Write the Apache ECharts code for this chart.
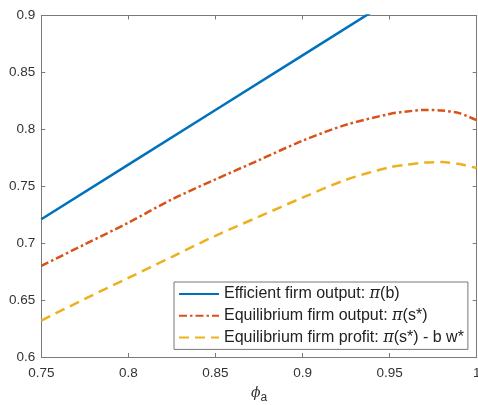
<!DOCTYPE html>
<html>
<head>
<meta charset="utf-8">
<script src="https://cdn.jsdelivr.net/npm/echarts@6/dist/echarts.min.js"></script>
<style>
  html, body { margin: 0; padding: 0; background: #fff; }
  #chart { width: 478px; height: 405px; }
</style>
</head>
<body>
<div id="chart"></div>
<script>
const phiVals = [0.75, 0.775, 0.8, 0.825, 0.85, 0.875, 0.9, 0.925, 0.95, 0.96, 0.97, 0.98, 0.99, 1.0];
const eqOutput = [0.680, 0.699, 0.718, 0.7385, 0.756, 0.773, 0.790, 0.804, 0.8135, 0.8157, 0.817, 0.8165, 0.8142, 0.808];
const eqProfit = [0.632, 0.651, 0.6695, 0.688, 0.7065, 0.7233, 0.740, 0.7557, 0.7667, 0.769, 0.7708, 0.7712, 0.7695, 0.766];
// efficient output is a straight line (clipped at top)
const effPhi = [0.75, 0.8, 0.85, 0.9, 0.95, 1.0];
const effOutput = [0.721, 0.769, 0.817, 0.865, 0.913, 0.962];

const names = [
  'Efficient firm output: π(b)',
  'Equilibrium firm output: π(s*)',
  'Equilibrium firm profit: π(s*) - b w*'
];
const labels = [
  'Efficient firm output: {pi|π}(b)',
  'Equilibrium firm output: {pi|π}(s*)',
  'Equilibrium firm profit: {pi|π}(s*) - b w*'
];

function pairs(xs, ys) {
  return xs.map((x, i) => [x, ys[i]]);
}

const chart = echarts.init(document.getElementById('chart'));
const axisColor = '#7a7a7a';
const textColor = '#333';
const font = 'Liberation Sans, Arial, Helvetica, sans-serif';

const option = {
  backgroundColor: '#fff',
  animation: false,
  grid: { left: 41.3, right: 1.3, top: 15.5, bottom: 48, outerBoundsMode: 'none', containLabel: false },
  xAxis: [{
    type: 'value', min: 0.75, max: 1, interval: 0.05,
    axisLine: { lineStyle: { color: axisColor } },
    axisTick: { inside: true, length: 4, lineStyle: { color: axisColor } },
    splitLine: { show: false },
    axisLabel: { color: textColor, fontSize: 13.5, fontFamily: font, margin: 9 },
    name: '{phi|ϕ}{sub|a}',
    nameLocation: 'middle',
    nameGap: 25,
    nameTextStyle: {
      rich: {
        phi: { fontSize: 14, fontStyle: 'italic', fontFamily: 'DejaVu Serif', color: textColor },
        sub: { fontSize: 12, fontFamily: font, color: textColor, padding: [10, 0, 0, 0] }
      }
    }
  }, {
    type: 'value', position: 'top', min: 0.75, max: 1, interval: 0.05,
    axisLine: { lineStyle: { color: axisColor } },
    axisTick: { inside: true, length: 4, lineStyle: { color: axisColor } },
    splitLine: { show: false },
    axisLabel: { show: false }
  }],
  yAxis: [{
    type: 'value', min: 0.6, max: 0.9, interval: 0.05,
    axisLine: { show: true, lineStyle: { color: axisColor } },
    axisTick: { show: true, inside: true, length: 4, lineStyle: { color: axisColor } },
    splitLine: { show: false },
    axisLabel: { color: textColor, fontSize: 13.5, fontFamily: font, margin: 6 }
  }, {
    type: 'value', position: 'right', min: 0.6, max: 0.9, interval: 0.05,
    axisLine: { show: true, lineStyle: { color: axisColor } },
    axisTick: { show: true, inside: true, length: 4, lineStyle: { color: axisColor } },
    splitLine: { show: false },
    axisLabel: { show: false }
  }],
  legend: {
    orient: 'vertical',
    left: 174, top: 282,
    padding: [4, 4, 4, 4],
    itemGap: 5.7,
    itemWidth: 40,
    itemHeight: 17.7,
    borderColor: '#777',
    borderWidth: 1,
    backgroundColor: '#fff',
    data: names,
    itemStyle: { opacity: 0 },
    formatter: name => labels[names.indexOf(name)],
    textStyle: {
      fontSize: 16, fontFamily: font, color: '#222',
      rich: {
        pi: { fontSize: 16, fontStyle: 'italic', fontFamily: 'DejaVu Serif', color: '#222' }
      }
    }
  },
  series: [{
    name: names[0],
    type: 'line',
    symbol: 'none',
    data: pairs(effPhi, effOutput),
    lineStyle: { color: '#0072BD', width: 2.5 },
    itemStyle: { color: '#0072BD' }
  }, {
    name: names[1],
    type: 'line',
    symbol: 'none',
    smooth: 0.3,
    data: pairs(phiVals, eqOutput),
    lineStyle: { color: '#D95319', width: 2.5, type: [8, 3, 2.5, 3] },
    itemStyle: { color: '#D95319' }
  }, {
    name: names[2],
    type: 'line',
    symbol: 'none',
    smooth: 0.3,
    data: pairs(phiVals, eqProfit),
    lineStyle: { color: '#EDB120', width: 2.5, type: [10, 6] },
    itemStyle: { color: '#EDB120' }
  }]
};
chart.setOption(option);
</script>
</body>
</html>
